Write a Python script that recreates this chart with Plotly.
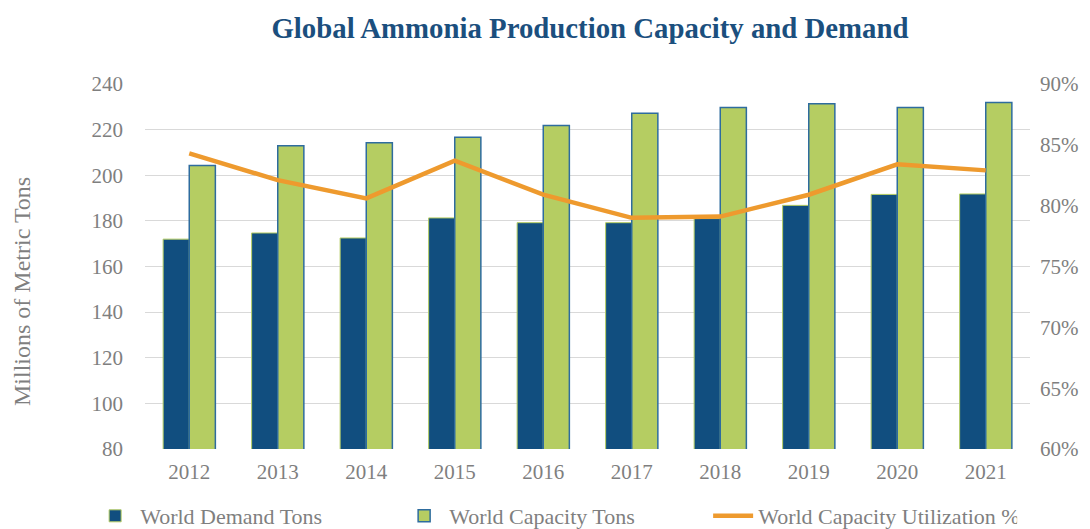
import plotly.graph_objects as go

years = ["2012", "2013", "2014", "2015", "2016", "2017", "2018", "2019", "2020", "2021"]
demand = [172, 174.7, 172.5, 181.3, 179.2, 179.2, 181, 186.8, 191.6, 191.8]
capacity = [204.3, 212.9, 214.2, 216.7, 221.8, 227.2, 229.7, 231.3, 229.7, 231.9]
utilization = [84.3, 82.1, 80.6, 83.7, 80.9, 79.0, 79.1, 80.9, 83.4, 82.9]

left_ticks = [80, 100, 120, 140, 160, 180, 200, 220, 240]
right_ticks = [60, 65, 70, 75, 80, 85, 90]
right_labels = ["60%", "65%", "70%", "75%", "80%", "85%", "90%"]

FONT = "Liberation Serif, Times New Roman, serif"
GREY = "#7f7f7f"

# The page body has an 8px default margin, so the figure is sized/placed to compensate.
W, H = 1082, 521

fig = go.Figure()
fig.add_trace(go.Bar(
    x=years, y=demand, name="World Demand Tons",
    marker=dict(color="#114E7F", line=dict(color="#B5CD62", width=1)),
))
fig.add_trace(go.Bar(
    x=years, y=capacity, name="World Capacity Tons",
    marker=dict(color="#B5CD62", line=dict(color="#2E6C9E", width=1.5)),
))
fig.add_trace(go.Scatter(
    x=years, y=utilization, name="World Capacity Utilization %",
    mode="lines", line=dict(color="#EE9A2E", width=4.5), yaxis="y2",
))

fig.update_layout(
    width=W, height=H,
    paper_bgcolor="white", plot_bgcolor="white",
    margin=dict(l=137, r=60, t=76, b=80, autoexpand=False),
    barmode="group", bargap=0.41, bargroupgap=0,
    font=dict(family=FONT, color=GREY, size=21),
    title=dict(
        text="<b>Global Ammonia Production Capacity and Demand</b>",
        font=dict(family=FONT, size=28.8, color="#1B4F7E"),
        x=582 / W, xanchor="center", y=1 - 20 / H, yanchor="middle",
    ),
    xaxis=dict(
        showgrid=False, showline=False, ticks="", automargin=False,
        tickfont=dict(size=21, color=GREY),
        ticklabelstandoff=8,
    ),
    yaxis=dict(
        range=[80, 240], tickvals=left_ticks, automargin=False,
        showgrid=True, gridcolor="#D9D9D9", gridwidth=1.3,
        zeroline=False, showline=False,
        tickfont=dict(size=21, color=GREY),
        ticklabelstandoff=21,
    ),
    yaxis2=dict(
        range=[60, 90], tickvals=right_ticks, ticktext=right_labels,
        overlaying="y", side="right", automargin=False,
        showgrid=False, zeroline=False, showline=False,
        tickfont=dict(size=21, color=GREY),
        ticklabelstandoff=9,
    ),
    legend=dict(
        orientation="h", x=-0.062, xanchor="left", y=-0.1836, yanchor="middle",
        font=dict(size=22, color=GREY), itemwidth=40,
        traceorder="normal", entrywidthmode="pixels", entrywidth=254,
    ),
    annotations=[dict(
        text="Millions of Metric Tons", textangle=-90,
        xref="paper", yref="paper", x=-123 / 885, y=(441 - 284) / 365,
        xanchor="center", yanchor="middle", showarrow=False,
        font=dict(family=FONT, size=24, color=GREY),
    )],
)

fig.write_html("out.html")
